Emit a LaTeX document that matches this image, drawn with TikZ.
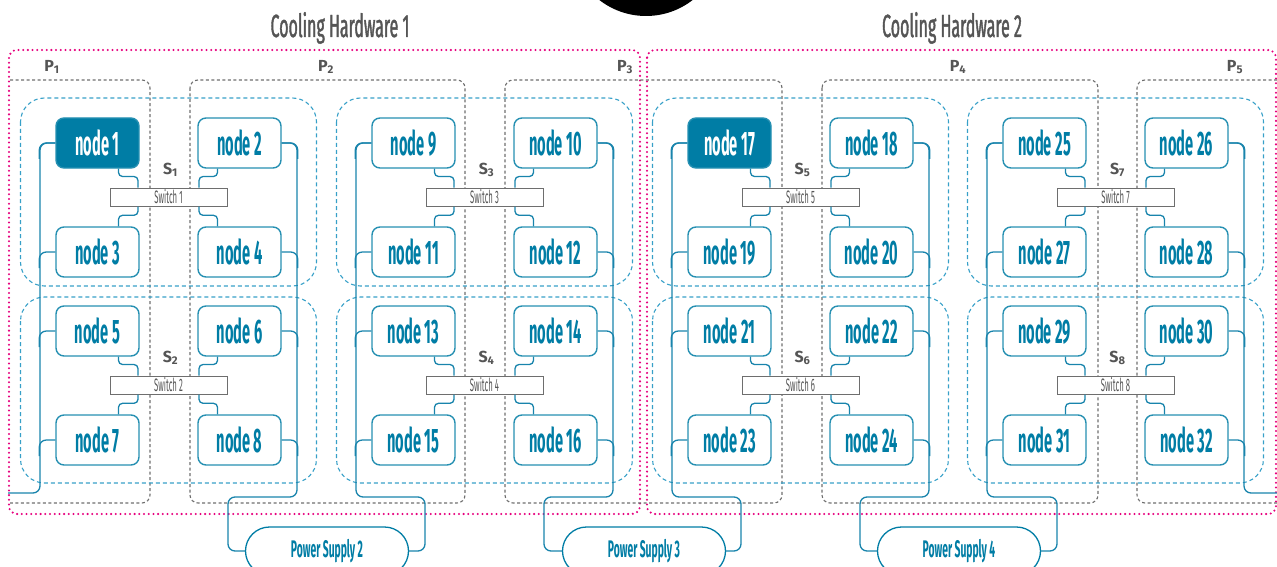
\documentclass[tikz,border=0pt]{standalone}
\usepackage{fontspec}
\setmainfont{Fira Sans}[FakeStretch=0.43]
\newfontfamily\titlefont{Fira Sans}[FakeStretch=0.5,FakeBold=1.2]
\newfontfamily\labelfont{Fira Sans}
\usetikzlibrary{calc}
\definecolor{nodeteal}{RGB}{0,125,165}
\definecolor{wireteal}{RGB}{25,132,172}
\definecolor{groupblue}{RGB}{55,160,200}
\definecolor{partgray}{RGB}{110,110,110}
\definecolor{coolpink}{RGB}{230,0,126}
\definecolor{textgray}{RGB}{85,85,85}

\begin{document}
\begin{tikzpicture}[x=1pt,y=-1pt,
    nodebox/.style={draw=nodeteal!85,line width=1.4pt,rounded corners=8pt,
                    minimum width=83pt,minimum height=50pt,inner sep=0pt,
                    font=\bfseries\fontsize{34}{34}\selectfont},
    switchbox/.style={draw=partgray,fill=white,line width=1pt,minimum width=117pt,
                    minimum height=18pt,inner sep=0pt,text=textgray,
                    font=\fontsize{18}{18}\selectfont},
    psbox/.style={draw=nodeteal,line width=1.3pt,rounded corners=24pt,fill=white,
                  minimum width=163pt,minimum height=48pt,text=nodeteal,
                  font=\bfseries\fontsize{24}{24}\selectfont},
    wire/.style={draw=wireteal,line width=1.3pt,rounded corners=7pt},
    jog/.style={draw=wireteal,line width=1.3pt,rounded corners=4pt},
    groupline/.style={draw=groupblue,line width=1.1pt,dash pattern=on 4pt off 3pt,rounded corners=24pt},
    partline/.style={draw=partgray,line width=1.1pt,dash pattern=on 3pt off 2.5pt,rounded corners=8pt},
    coolline/.style={draw=coolpink,line width=2.3pt,line cap=round,dash pattern=on 0pt off 4.7pt,rounded corners=8pt},
    hwtitle/.style={text=textgray,anchor=base,font=\titlefont\fontsize{32}{32}\selectfont},
    tag/.style={text=textgray,inner sep=0pt,font=\labelfont\bfseries\fontsize{16}{16}\selectfont}]
  \useasboundingbox (0,0) rectangle (1277,567);
  \begin{scope}
    \clip (0,0) rectangle (1277,567);
    \fill[black] (646,-60) circle (76pt);
  \end{scope}

  % titles
  \node[hwtitle] (hw1) at (340,37) {Cooling Hardware 1};
  \node[hwtitle] (hw2) at (952,37) {Cooling Hardware 2};

  % cooling hardware borders
  \draw[coolline] (9,50) rectangle (640,514);
  \draw[coolline] (647,50) rectangle (1276,514);

  % power partitions
  \draw[partline] (10,80) -- (150,80) -- (150,503) -- (10,503);
  \draw[partline] (190,80) rectangle (465,503);
  \draw[partline] (505,80) rectangle (782,503);
  \draw[partline] (822,80) rectangle (1098,503);
  \draw[partline] (1277,80) -- (1137,80) -- (1137,503) -- (1277,503);
  \node[tag] (p1) at (52,67) {P\textsubscript{1}};
  \node[tag] (p2) at (326,67) {P\textsubscript{2}};
  \node[tag] (p3) at (625,67) {P\textsubscript{3}};
  \node[tag] (p4) at (958,67) {P\textsubscript{4}};
  \node[tag] (p5) at (1235,67) {P\textsubscript{5}};

  % groups of four nodes around a switch
  \foreach \g/\c in {0/168.5,1/484.5,2/800.5,3/1115.5}{
    \foreach \h/\ty/\rt/\rb in {0/143/98/286,1/331/297/483}{
      \pgfmathtruncatemacro\k{2*\g+\h+1}
      \pgfmathtruncatemacro\na{4*\k-3}
      \pgfmathtruncatemacro\nb{4*\k-2}
      \pgfmathtruncatemacro\nc{4*\k-1}
      \pgfmathtruncatemacro\nd{4*\k}
      \pgfmathtruncatemacro\hot{(\h==0)&&(mod(\g,2)==0)}
      \ifnum\hot=1 \def\fc{nodeteal}\def\tc{white}\else\def\fc{white}\def\tc{nodeteal}\fi
      \draw[groupline] (\c-148,\rt) rectangle (\c+148,\rb);
      \node[nodebox,fill=\fc,text=\tc] (n\na) at (\c-71,\ty) {node \na};
      \node[nodebox,fill=white,text=nodeteal] (n\nb) at (\c+71,\ty) {node \nb};
      \node[nodebox,fill=white,text=nodeteal] (n\nc) at (\c-71,\ty+109) {node \nc};
      \node[nodebox,fill=white,text=nodeteal] (n\nd) at (\c+71,\ty+109) {node \nd};
      \node[switchbox] (sw\k) at (\c,\ty+54) {Switch \k};
      \node[tag] (s\k) at (\c+2,\ty+27) {S\textsubscript{\k}};
      \draw[jog] ($(n\na.south)+(21,0)$) |- ($(sw\k.north)+(-30.5,-11)$) -- ($(sw\k.north)+(-30.5,0)$);
      \draw[jog] ($(n\nb.south)+(-22,0)$) |- ($(sw\k.north)+(30.5,-11)$) -- ($(sw\k.north)+(30.5,0)$);
      \draw[jog] ($(sw\k.south)+(-30.5,0)$) |- ($(n\nc.north)+(21,-11)$) -- ($(n\nc.north)+(21,0)$);
      \draw[jog] ($(sw\k.south)+(30.5,0)$) |- ($(n\nd.north)+(-22,-11)$) -- ($(n\nd.north)+(-22,0)$);
      \draw[wire] (n\na.west) -| ++(-16,16);
      \draw[wire] (n\nc.west) -| ++(-16,16);
      \draw[wire] (n\nb.east) -| ++(16,16);
      \draw[wire] (n\nd.east) -| ++(16,16);
    }
  }

  % power supplies
  \node[psbox] (ps2) at (327,551) {Power Supply 2};
  \node[psbox] (ps3) at (644,551) {Power Supply 3};
  \node[psbox] (ps4) at (959,551) {Power Supply 4};
  \coordinate (psleft) at (8,493);
  \coordinate (psright) at (1277,493);

  % power buses
  \draw[wire] (n1.west) -| (40,493) -- (psleft);
  \draw[wire] (n2.east) -| (297,497) -| (228,551) -- (ps2.west);
  \draw[wire] (n9.west) -| (356,497) -| (425,551) -- (ps2.east);
  \draw[wire] (n10.east) -| (613,497) -| (544,551) -- (ps3.west);
  \draw[wire] (n17.west) -| (672,497) -| (741,551) -- (ps3.east);
  \draw[wire] (n18.east) -| (929,497) -| (860,551) -- (ps4.west);
  \draw[wire] (n25.west) -| (987,497) -| (1057,551) -- (ps4.east);
  \draw[wire] (n26.east) -| (1244,493) -- (psright);
\end{tikzpicture}
\end{document}
